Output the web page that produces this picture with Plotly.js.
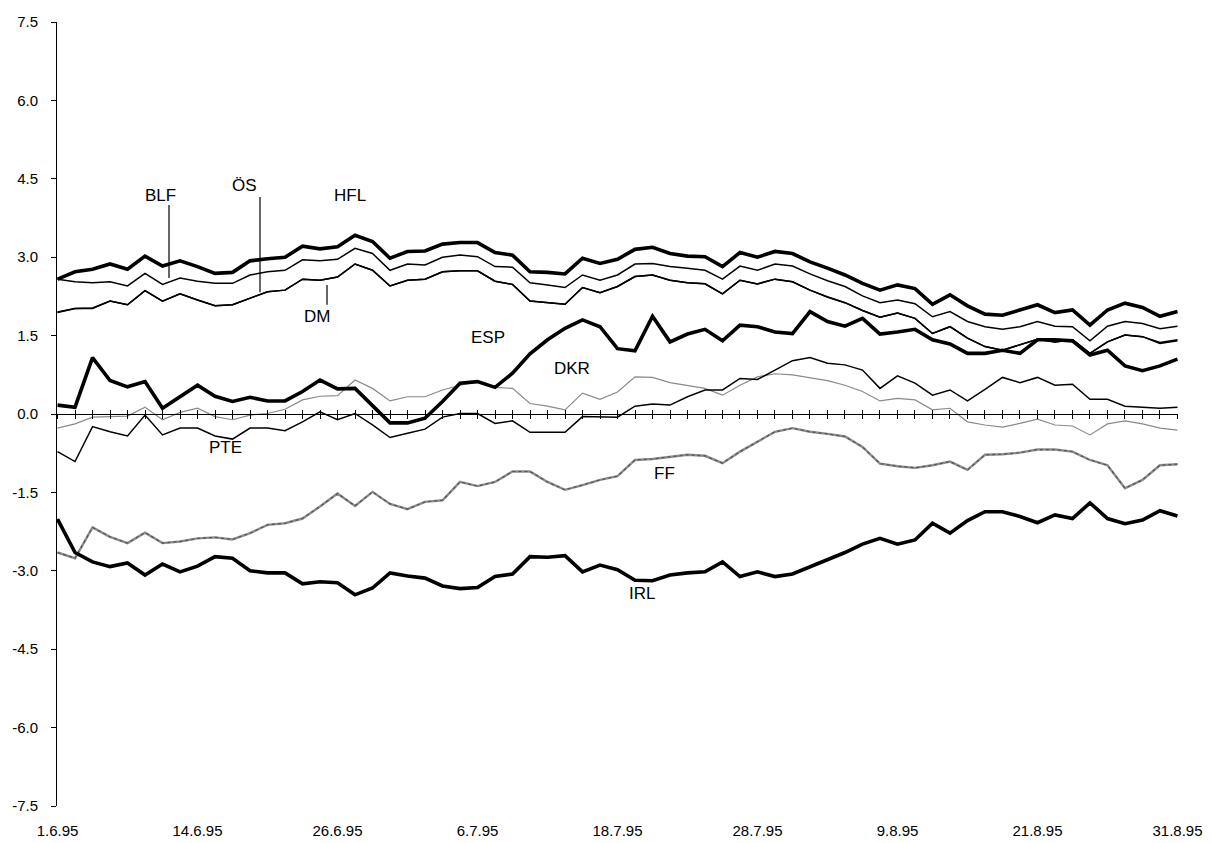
<!DOCTYPE html>
<html>
<head>
<meta charset="utf-8">
<script src="https://cdn.plot.ly/plotly-3.0.1.min.js"></script>
<style>html,body{margin:0;padding:0;background:#fff;}#chart{width:1212px;height:843px;}</style>
</head>
<body>
<div id="chart"></div>
<script>
// Trading days index 0..64, labelled every 8th day
var tickIndex = [0, 8, 16, 24, 32, 40, 48, 56, 64];
var tickLabels = ["1.6.95", "14.6.95", "26.6.95", "6.7.95", "18.7.95", "28.7.95", "9.8.95", "21.8.95", "31.8.95"];
var yTicks = [-7.5, -6.0, -4.5, -3.0, -1.5, 0.0, 1.5, 3.0, 4.5, 6.0, 7.5];
var yTickLabels = ["-7.5", "-6.0", "-4.5", "-3.0", "-1.5", "0.0", "1.5", "3.0", "4.5", "6.0", "7.5"];

var HFL = [2.58,2.72,2.77,2.87,2.77,3.02,2.83,2.93,2.82,2.69,2.71,2.93,2.97,3.00,3.21,3.16,3.20,3.42,3.30,2.98,3.11,3.12,3.25,3.28,3.28,3.09,3.04,2.72,2.71,2.68,2.98,2.88,2.96,3.15,3.19,3.07,3.02,3.01,2.82,3.09,3.00,3.11,3.07,2.91,2.79,2.66,2.50,2.37,2.47,2.40,2.10,2.28,2.07,1.91,1.89,1.99,2.09,1.94,1.99,1.70,1.99,2.12,2.04,1.87,1.96];
var BLF = [2.58,2.53,2.51,2.53,2.45,2.69,2.48,2.60,2.54,2.50,2.50,2.66,2.72,2.75,2.95,2.93,2.96,3.17,3.07,2.75,2.87,2.85,3.00,3.04,3.01,2.82,2.81,2.51,2.47,2.42,2.66,2.56,2.66,2.87,2.88,2.82,2.79,2.75,2.58,2.83,2.75,2.87,2.83,2.68,2.55,2.44,2.26,2.13,2.18,2.11,1.86,1.96,1.77,1.67,1.62,1.67,1.77,1.68,1.67,1.40,1.68,1.77,1.73,1.63,1.68];
var DM = [1.94,2.02,2.02,2.16,2.09,2.36,2.16,2.30,2.18,2.07,2.09,2.21,2.34,2.37,2.58,2.56,2.62,2.87,2.75,2.45,2.56,2.58,2.72,2.74,2.74,2.54,2.48,2.16,2.13,2.10,2.42,2.32,2.44,2.63,2.66,2.56,2.51,2.49,2.30,2.56,2.49,2.58,2.53,2.37,2.24,2.13,1.98,1.85,1.93,1.83,1.54,1.67,1.45,1.29,1.22,1.32,1.43,1.38,1.42,1.16,1.38,1.51,1.48,1.35,1.40];
var OS = [1.95,2.02,2.03,2.16,2.09,2.36,2.16,2.30,2.18,2.07,2.09,2.21,2.34,2.37,2.58,2.56,2.62,2.87,2.75,2.45,2.56,2.58,2.72,2.74,2.74,2.54,2.48,2.16,2.13,2.10,2.42,2.32,2.44,2.63,2.66,2.56,2.51,2.49,2.30,2.56,2.49,2.58,2.53,2.37,2.24,2.13,1.98,1.85,1.93,1.83,1.54,1.67,1.45,1.29,1.22,1.32,1.43,1.38,1.42,1.16,1.38,1.51,1.48,1.37,1.42];
var ESP = [0.17,0.13,1.08,0.64,0.52,0.62,0.11,0.33,0.55,0.34,0.24,0.32,0.25,0.25,0.43,0.65,0.48,0.49,0.17,-0.17,-0.17,-0.08,0.24,0.59,0.62,0.51,0.78,1.15,1.42,1.64,1.80,1.67,1.25,1.21,1.87,1.38,1.53,1.62,1.40,1.70,1.67,1.57,1.54,1.96,1.77,1.68,1.83,1.53,1.57,1.62,1.42,1.34,1.16,1.16,1.22,1.16,1.42,1.42,1.40,1.13,1.22,0.92,0.83,0.92,1.05];
var PTE = [-0.72,-0.91,-0.24,-0.34,-0.42,-0.02,-0.40,-0.27,-0.27,-0.42,-0.48,-0.27,-0.27,-0.32,-0.15,0.04,-0.11,0.01,-0.21,-0.45,-0.37,-0.29,-0.06,0.01,0.01,-0.18,-0.13,-0.35,-0.35,-0.35,-0.05,-0.06,-0.06,0.15,0.19,0.17,0.33,0.46,0.46,0.68,0.66,0.84,1.02,1.08,0.97,0.94,0.84,0.49,0.73,0.59,0.36,0.46,0.25,0.47,0.70,0.60,0.70,0.55,0.57,0.28,0.28,0.15,0.13,0.11,0.13];
var DKR = [-0.27,-0.19,-0.06,-0.05,-0.04,0.13,-0.11,0.03,0.11,-0.05,-0.11,-0.02,0.01,0.09,0.27,0.34,0.35,0.65,0.49,0.25,0.33,0.33,0.46,0.55,0.62,0.51,0.49,0.20,0.15,0.08,0.40,0.28,0.42,0.71,0.70,0.60,0.54,0.49,0.36,0.55,0.71,0.77,0.75,0.70,0.64,0.55,0.43,0.25,0.30,0.27,0.08,0.11,-0.15,-0.21,-0.25,-0.18,-0.10,-0.21,-0.23,-0.40,-0.19,-0.13,-0.19,-0.27,-0.31];
var FF = [-2.65,-2.76,-2.17,-2.35,-2.47,-2.27,-2.47,-2.44,-2.38,-2.36,-2.40,-2.28,-2.12,-2.09,-2.00,-1.77,-1.52,-1.76,-1.49,-1.72,-1.82,-1.68,-1.65,-1.30,-1.38,-1.30,-1.10,-1.10,-1.30,-1.45,-1.36,-1.26,-1.19,-0.88,-0.86,-0.82,-0.78,-0.80,-0.94,-0.72,-0.53,-0.34,-0.27,-0.34,-0.38,-0.43,-0.63,-0.95,-1.00,-1.03,-0.98,-0.91,-1.07,-0.78,-0.77,-0.74,-0.68,-0.68,-0.72,-0.88,-0.98,-1.42,-1.26,-0.98,-0.96];
var IRL = [-2.01,-2.65,-2.83,-2.92,-2.85,-3.08,-2.87,-3.02,-2.91,-2.73,-2.76,-3.00,-3.04,-3.04,-3.25,-3.21,-3.23,-3.46,-3.33,-3.04,-3.10,-3.14,-3.29,-3.34,-3.32,-3.11,-3.06,-2.73,-2.74,-2.71,-3.02,-2.89,-2.98,-3.18,-3.19,-3.08,-3.04,-3.02,-2.83,-3.11,-3.02,-3.11,-3.06,-2.92,-2.78,-2.65,-2.49,-2.38,-2.49,-2.41,-2.09,-2.28,-2.04,-1.87,-1.87,-1.96,-2.08,-1.93,-2.00,-1.70,-2.00,-2.10,-2.03,-1.85,-1.95];

// Series labels: [text, x index, y value]
var seriesLabels = [["BLF",5.86,4.19],["ÖS",10.7,4.37],["HFL",16.7,4.19],["DM",14.8,1.86],["ESP",24.6,1.46],["DKR",29.4,0.88],["PTE",9.6,-0.65],["FF",34.7,-1.13],["IRL",33.4,-3.44]];
// Leader lines: [x index, y from, y to]
var leaders = [[6.37,4.00,2.60],[11.57,4.15,2.33],[15.4,2.47,2.09]];

var idx = HFL.map(function(_, i){ return i; });

function line(y, name, color, width, dash){
  return {x: idx, y: y, name: name, type: 'scatter', mode: 'lines', hoverinfo: 'skip',
          line: {color: color, width: width, dash: dash || 'solid', shape: 'linear'}};
}

var traces = [
  line(DKR, 'DKR', '#8a8a8a', 1.2, 'solid'),
  line(FF, 'FF', '#8c8c8c', 2.4, 'solid'),
  line(FF, 'FF', '#555555', 1.2, 'dot'),
  line(PTE, 'PTE', '#000', 1.5),
  line(OS, 'ÖS', '#000', 1.5),
  line(DM, 'DM', '#000', 1.5),
  line(BLF, 'BLF', '#000', 1.5),
  line(ESP, 'ESP', '#000', 3.6),
  line(IRL, 'IRL', '#000', 3.6),
  line(HFL, 'HFL', '#000', 3.6)
];

var fam = 'Liberation Sans, Arial, sans-serif';
var tickFont = {family: fam, size: 15, color: '#000'};

var annotations = seriesLabels.map(function(l){
  return {x: l[1], y: l[2], xref: 'x', yref: 'y', text: l[0], showarrow: false,
          font: {family: fam, size: 17, color: '#000'}, xanchor: 'center', yanchor: 'middle'};
});
var shapes = leaders.map(function(l){
  return {type: 'line', xref: 'x', yref: 'y', x0: l[0], x1: l[0], y0: l[1], y1: l[2],
          line: {color: '#000', width: 1.2}};
});

var xr = [-0.03, 64.03];
var layout = {
  width: 1212, height: 843,
  margin: {l: 57, r: 34, t: 22, b: 37, pad: 0},
  paper_bgcolor: '#fff', plot_bgcolor: '#fff',
  showlegend: false,
  font: tickFont,
  xaxis: {range: xr, showgrid: false, zeroline: false, showline: false,
          tickmode: 'array', tickvals: tickIndex, ticktext: tickLabels,
          ticks: '', ticklabelstandoff: 14, tickfont: tickFont, fixedrange: true},
  xaxis2: {overlaying: 'x', anchor: 'free', position: 0.5, range: xr,
           showgrid: false, zeroline: false, showline: true, linecolor: '#000', linewidth: 1,
           tickmode: 'linear', tick0: 0, dtick: 1, ticks: 'outside', ticklen: 4, tickwidth: 1,
           tickcolor: '#000', showticklabels: false, fixedrange: true},
  xaxis3: {overlaying: 'x', anchor: 'free', position: 0.5, range: xr,
           showgrid: false, zeroline: false, showline: false,
           tickmode: 'linear', tick0: 0, dtick: 1, ticks: 'inside', ticklen: 4, tickwidth: 1,
           tickcolor: '#000', showticklabels: false, fixedrange: true},
  yaxis: {range: [-7.5, 7.5], showgrid: false, zeroline: false,
          showline: true, linecolor: '#000', linewidth: 1,
          tickmode: 'array', tickvals: yTicks, ticktext: yTickLabels,
          ticks: 'outside', ticklen: 5, tickcolor: '#000', ticklabelstandoff: 10,
          tickfont: tickFont, fixedrange: true},
  annotations: annotations,
  shapes: shapes
};

// invisible traces so overlay axes are drawn
traces.push({x: xr, y: [0, 0], xaxis: 'x2', yaxis: 'y', mode: 'lines', line: {width: 0}, hoverinfo: 'skip', showlegend: false});
traces.push({x: xr, y: [0, 0], xaxis: 'x3', yaxis: 'y', mode: 'lines', line: {width: 0}, hoverinfo: 'skip', showlegend: false});

Plotly.newPlot('chart', traces, layout, {staticPlot: true, displayModeBar: false});
</script>
</body>
</html>
